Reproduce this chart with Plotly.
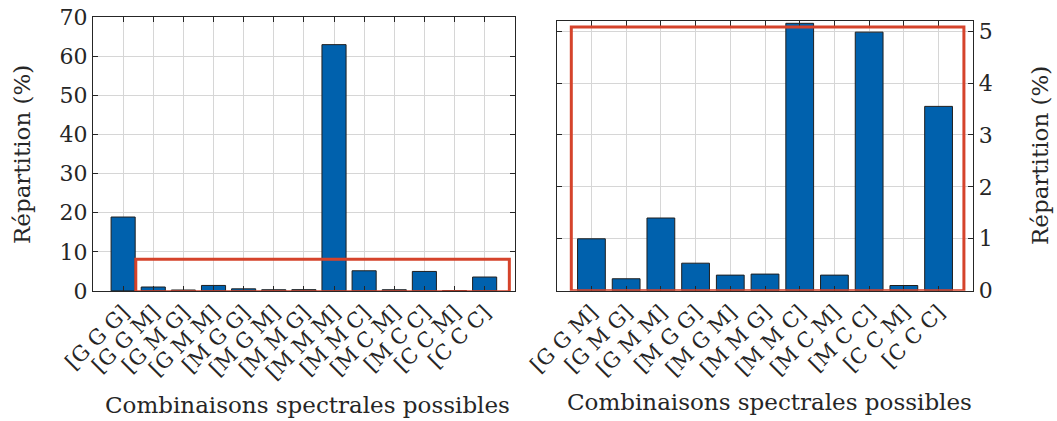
import plotly.graph_objects as go

# Left chart: all spectral combinations
cats_all = ["[G G G]", "[G G M]", "[G M G]", "[G M M]", "[M G G]", "[M G M]", "[M M G]",
            "[M M M]", "[M M C]", "[M C M]", "[M C C]", "[C C M]", "[C C C]"]
vals_all = [18.9, 1.0, 0.23, 1.4, 0.53, 0.3, 0.32, 63.0, 5.15, 0.3, 4.98, 0.1, 3.55]

# Right chart: zoom without [G G G] and [M M M]
cats_zoom = ["[G G M]", "[G M G]", "[G M M]", "[M G G]", "[M G M]", "[M M G]",
             "[M M C]", "[M C M]", "[M C C]", "[C C M]", "[C C C]"]
vals_zoom = [1.0, 0.23, 1.4, 0.53, 0.3, 0.32, 5.15, 0.3, 4.98, 0.1, 3.55]

left_ticks = [0, 10, 20, 30, 40, 50, 60, 70]
right_ticks = [0, 1, 2, 3, 4, 5]

FONT = "DejaVu Serif"
TXT = "#262626"
BAR = "#0061ad"
GRID = "#d6d6d6"
RED = "#d5432b"

fig = go.Figure()
fig.add_trace(go.Bar(x=cats_all, y=vals_all, xaxis="x", yaxis="y", width=0.8,
                     marker=dict(color=BAR, line=dict(color="#1f1f1f", width=1))))
fig.add_trace(go.Bar(x=cats_zoom, y=vals_zoom, xaxis="x2", yaxis="y2", width=0.8,
                     marker=dict(color=BAR, line=dict(color="#1f1f1f", width=1))))

common_x = dict(type="category", tickangle=-45, ticks="inside", ticklen=5, tickcolor=TXT,
                showline=True, linecolor=TXT, linewidth=1, mirror="ticks",
                showgrid=True, gridcolor=GRID, gridwidth=1, automargin=False,
                tickfont=dict(family=FONT, size=21, color=TXT), zeroline=False)
common_y = dict(ticks="inside", ticklen=5, tickcolor=TXT,
                showline=True, linecolor=TXT, linewidth=1, mirror="ticks",
                showgrid=True, gridcolor=GRID, gridwidth=1, automargin=False,
                tickfont=dict(family=FONT, size=22, color=TXT), zeroline=False)

fig.update_layout(
    width=1057, height=421,
    margin=dict(l=0, r=0, t=0, b=0, autoexpand=False),
    paper_bgcolor="white", plot_bgcolor="white",
    showlegend=False, bargap=0.2,
    xaxis=dict(common_x, domain=[0.088, 0.487], range=[-1, 13], anchor="y"),
    yaxis=dict(common_y, domain=[0.309, 0.959], range=[0, 70], tickvals=left_ticks, anchor="x"),
    xaxis2=dict(common_x, domain=[0.5267, 0.9208], range=[-1, 11], anchor="y2"),
    yaxis2=dict(common_y, domain=[0.3095, 0.9508], range=[0, 5.2], tickvals=right_ticks,
                anchor="x2", side="right"),
)

fig.add_shape(type="rect", xref="x", yref="y", x0=0.42, x1=12.82, y0=-0.2, y1=8.1,
              line=dict(color=RED, width=3), layer="above")
fig.add_shape(type="rect", xref="x2", yref="y2", x0=-0.58, x1=10.73, y0=0.0, y1=5.08,
              line=dict(color=RED, width=3), layer="above")

title_font = dict(family=FONT, size=23, color=TXT)
for txt, x, y, ang in [("Répartition (%)", 22, 155, -90),
                       ("Répartition (%)", 1040, 156, -90),
                       ("Combinaisons spectrales possibles", 307, 405, 0),
                       ("Combinaisons spectrales possibles", 769, 402, 0)]:
    fig.add_annotation(text=txt, textangle=ang, xref="paper", yref="paper",
                       x=x / 1057, y=1 - y / 421, xanchor="center", yanchor="middle",
                       showarrow=False, font=title_font)

fig.write_html("out.html", config={"displayModeBar": False},
               post_script="document.body.style.margin='0px';document.body.style.overflow='hidden';")
